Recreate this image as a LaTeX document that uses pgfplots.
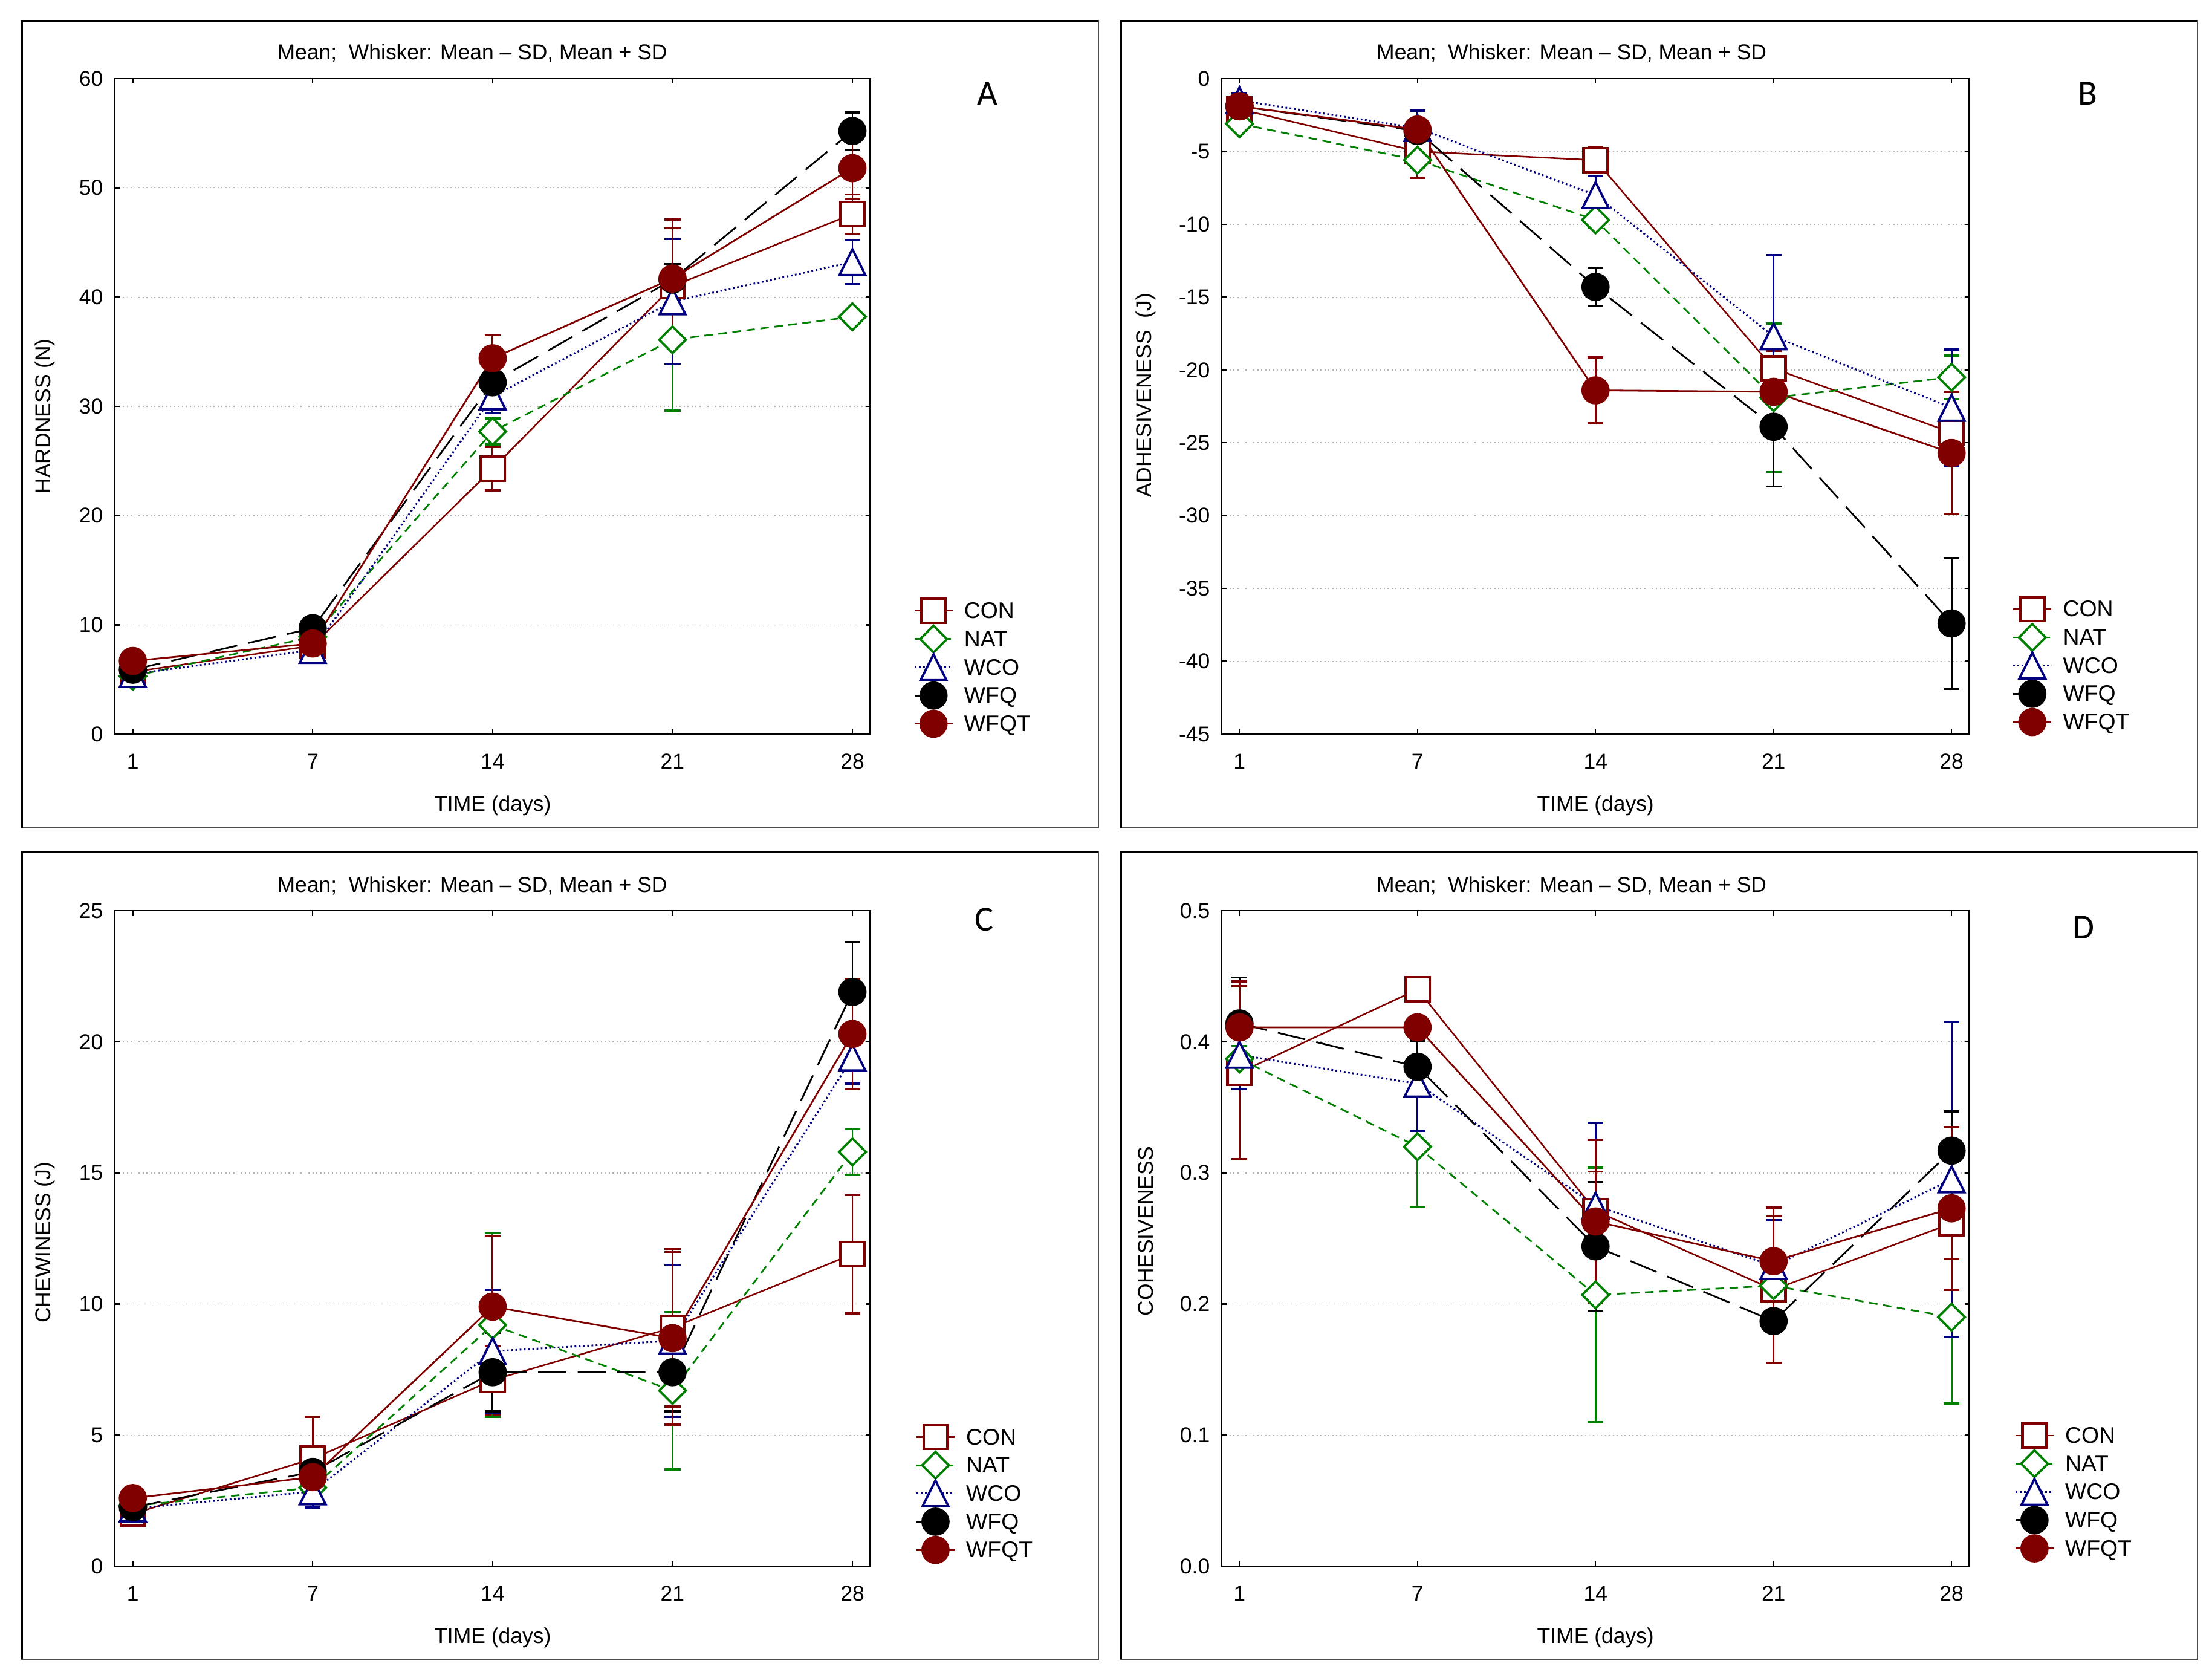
\documentclass[border=0pt]{standalone}
\usepackage{fontspec}
\setmainfont{Liberation Sans}
\newfontfamily\carlito{Carlito}
\usepackage{pgfplots}
\pgfplotsset{compat=1.18}
\definecolor{maroonc}{HTML}{800000}
\definecolor{ngreen}{HTML}{008000}
\definecolor{navyc}{HTML}{000080}
\newcommand{\tickfont}{\fontsize{7.6}{9}\selectfont}
\pgfplotsset{
  base/.style={
    scale only axis, height=232.3pt,
    xmin=-0.1, xmax=4.1, xtick={0,1,2,3,4}, xticklabels={1,7,14,21,28},
    tick align=inside, tick pos=both, major tick length=1.7pt,
    ymajorgrids, grid style={densely dotted, gray!60, line width=0.35pt},
    axis line style={line width=0.6pt},
    tick style={line width=0.5pt, black},
    ticklabel style={font=\tickfont},
    xticklabel style={inner sep=0pt, anchor=north, yshift=-6.85pt},
    yticklabel style={inner sep=0pt, anchor=east, xshift=-4pt},
    /pgf/number format/assume math mode=true,
    label style={font=\tickfont, inner sep=0pt},
    xlabel={TIME (days)},
    xlabel style={at={(axis description cs:0.5,-0.1177)}, anchor=base},
    ylabel style={anchor=center},
    title={Mean;\ \ Whisker: Mean – SD, Mean + SD},
    title style={anchor=base, yshift=-6pt, inner sep=0pt, font=\tickfont},
    clip=false,
    legend style={draw=none, fill=none, inner sep=0pt, outer sep=0pt, anchor=north west,
      row sep=0pt, column sep=3.8pt, font=\fontsize{8}{9.6}\selectfont,
      nodes={inner sep=0pt, text height=7.69pt, text depth=2.31pt, anchor=west}},
    legend cell align=left,
    legend image code/.code={\draw[mark repeat=2,mark phase=2] plot coordinates {(0pt,0pt) (6.75pt,0pt) (13.5pt,0pt)};},
  },
  eb/.style={error bars/y dir=both, error bars/y explicit,
    error bars/error bar style={solid, line width=0.6pt},
    error bars/error mark options={rotate=90, mark size=2.8pt, line width=0.8pt, solid}},
  con/.style={color=maroonc, solid, line width=0.55pt, mark=square*, mark size=4.25pt,
    mark options={solid, fill=white, line width=0.9pt}, eb},
  nat/.style={color=ngreen, dash pattern=on 3pt off 2pt, line width=0.6pt, mark=square*, mark size=3.35pt,
    mark options={solid, rotate=45, fill=white, line width=0.8pt}, eb},
  wco/.style={color=navyc, dash pattern=on 0.6pt off 0.9pt, line width=0.65pt, mark=triangle*, mark size=5.3pt,
    mark options={solid, yshift=-1.5pt, yscale=1.15, fill=white, line width=0.8pt}, eb},
  wfq/.style={color=black, dash pattern=on 10pt off 4pt, line width=0.6pt, mark=*, mark size=4.7pt,
    mark options={solid, fill=black}, eb},
  wfqt/.style={color=maroonc, solid, line width=0.6pt, mark=*, mark size=4.7pt,
    mark options={solid, fill=maroonc}, eb},
}
\begin{document}
\begin{tikzpicture}
\useasboundingbox (0,0) rectangle (784pt,593.5pt);
\fill[white] (0,0) rectangle (784pt,593.5pt);
% frames
\draw[line width=0.5pt, black!70] (7.7pt,300.2pt) rectangle (389.35pt,586.15pt);
\draw[line width=0.5pt, black!70] (397.35pt,300.2pt) rectangle (778.85pt,586.15pt);
\draw[line width=0.5pt, black!70] (7.7pt,5.5pt) rectangle (389.35pt,291.5pt);
\draw[line width=0.5pt, black!70] (397.35pt,5.5pt) rectangle (778.85pt,291.5pt);
\draw[line width=0.7pt, black] (7.7pt,300.2pt) -- (7.7pt,586.15pt) -- (389.35pt,586.15pt);
\draw[line width=0.7pt, black] (397.35pt,300.2pt) -- (397.35pt,586.15pt) -- (778.85pt,586.15pt);
\draw[line width=0.7pt, black] (7.7pt,5.5pt) -- (7.7pt,291.5pt) -- (389.35pt,291.5pt);
\draw[line width=0.7pt, black] (397.35pt,5.5pt) -- (397.35pt,291.5pt) -- (778.85pt,291.5pt);

% ---------------- A
\begin{axis}[base, at={(40.7pt,333.35pt)}, anchor=south west, width=267.8pt,
  ymin=0, ymax=60, ytick={0,10,20,30,40,50,60},
  ylabel={HARDNESS (N)}, ylabel style={at={(axis description cs:-0.0922,0.485)}},
  title style={at={(axis description cs:0.473,1.0286)}},
  legend style={at={(1.0571,0.2096)}}]
\addplot[con] table[x index=0,y index=1,y error index=2,row sep=\\]{0 5.7 0.4\\1 8.1 0.5\\2 24.3 2.0\\3 41.0 5.3\\4 47.6 1.8\\};
\addplot[nat] table[x index=0,y index=1,y error index=2,row sep=\\]{0 5.3 0.3\\1 8.9 1.5\\2 27.7 1.2\\3 36.1 6.5\\4 38.2 0.6\\};
\addplot[wco] table[x index=0,y index=1,y error index=2,row sep=\\]{0 5.5 0.3\\1 7.7 0.4\\2 30.9 1.5\\3 39.6 5.7\\4 43.2 2.0\\};
\addplot[wfq] table[x index=0,y index=1,y error index=2,row sep=\\]{0 5.9 0.4\\1 9.7 0.5\\2 32.2 1.5\\3 41.6 1.4\\4 55.2 1.7\\};
\addplot[wfqt] table[x index=0,y index=1,y error index=2,row sep=\\]{0 6.7 0.4\\1 8.3 0.5\\2 34.4 2.1\\3 41.7 5.4\\4 51.8 2.8\\};
\legend{CON,NAT,WCO,WFQ,WFQT}
\node[anchor=base, inner sep=0pt, font=\carlito\fontsize{12.5}{14}\selectfont] at (axis description cs:1.155,0.9602) {A};
\end{axis}

% ---------------- B
\begin{axis}[base, at={(433pt,333.35pt)}, anchor=south west, width=265pt,
  ymin=-45, ymax=0, ytick={-45,-40,-35,-30,-25,-20,-15,-10,-5,0},
  ylabel={ADHESIVENESS\ \ (J)}, ylabel style={at={(axis description cs:-0.1019,0.517)}},
  title style={at={(axis description cs:0.468,1.0286)}},
  legend style={at={(1.0575,0.2122)}}]
\addplot[con] table[x index=0,y index=1,y error index=2,row sep=\\]{0 -2.1 0.4\\1 -5.0 1.8\\2 -5.6 0.9\\3 -19.9 1.2\\4 -24.3 1.2\\};
\addplot[nat] table[x index=0,y index=1,y error index=2,row sep=\\]{0 -3.1 0.4\\1 -5.6 0.5\\2 -9.7 0.5\\3 -21.9 5.1\\4 -20.5 1.5\\};
\addplot[wco] table[x index=0,y index=1,y error index=2,row sep=\\]{0 -1.5 0.5\\1 -3.4 1.2\\2 -8.0 1.3\\3 -17.7 5.6\\4 -22.6 4.0\\};
\addplot[wfq] table[x index=0,y index=1,y error index=2,row sep=\\]{0 -1.9 0.3\\1 -3.6 0.5\\2 -14.3 1.3\\3 -23.9 4.1\\4 -37.4 4.5\\};
\addplot[wfqt] table[x index=0,y index=1,y error index=2,row sep=\\]{0 -1.9 0.4\\1 -3.5 0.5\\2 -21.4 2.25\\3 -21.5 0.8\\4 -25.7 4.2\\};
\legend{CON,NAT,WCO,WFQ,WFQT}
\node[anchor=base, inner sep=0pt, font=\carlito\fontsize{12.5}{14}\selectfont] at (axis description cs:1.1585,0.9602) {B};
\end{axis}

% ---------------- C
\begin{axis}[base, at={(40.7pt,38.5pt)}, anchor=south west, width=267.8pt,
  ymin=0, ymax=25, ytick={0,5,10,15,20,25},
  ylabel={CHEWINESS (J)}, ylabel style={at={(axis description cs:-0.0922,0.494)}},
  title style={at={(axis description cs:0.473,1.0286)}},
  legend style={at={(1.0597,0.2187)}}]
\addplot[con] table[x index=0,y index=1,y error index=2,row sep=\\]{0 2.0 0.2\\1 4.1 1.6\\2 7.1 1.3\\3 9.1 3.0\\4 11.9 2.25\\};
\addplot[nat] table[x index=0,y index=1,y error index=2,row sep=\\]{0 2.3 0.3\\1 3.0 0.4\\2 9.2 3.5\\3 6.7 3.0\\4 15.8 0.87\\};
\addplot[wco] table[x index=0,y index=1,y error index=2,row sep=\\]{0 2.2 0.2\\1 2.85 0.6\\2 8.2 2.35\\3 8.6 2.9\\4 19.4 1.0\\};
\addplot[wfq] table[x index=0,y index=1,y error index=2,row sep=\\]{0 2.25 0.3\\1 3.6 0.4\\2 7.4 1.5\\3 7.4 1.5\\4 21.9 1.9\\};
\addplot[wfqt] table[x index=0,y index=1,y error index=2,row sep=\\]{0 2.6 0.3\\1 3.4 0.5\\2 9.9 2.7\\3 8.7 3.3\\4 20.3 2.1\\};
\legend{CON,NAT,WCO,WFQ,WFQT}
\node[anchor=base, inner sep=0pt, font=\carlito\fontsize{12.5}{14}\selectfont] at (axis description cs:1.1507,0.9692) {C};
\end{axis}

% ---------------- D
\begin{axis}[base, at={(433pt,38.5pt)}, anchor=south west, width=265pt,
  ymin=0, ymax=0.5, ytick={0,0.1,0.2,0.3,0.4,0.5},
  yticklabel style={/pgf/number format/fixed, /pgf/number format/fixed zerofill, /pgf/number format/precision=1},
  ylabel={COHESIVENESS}, ylabel style={at={(axis description cs:-0.1019,0.511)}},
  title style={at={(axis description cs:0.468,1.0286)}},
  legend style={at={(1.0604,0.2211)}}]
\addplot[con] table[x index=0,y index=1,y error index=2,row sep=\\]{0 0.3765 0.066\\1 0.440 0.005\\2 0.271 0.03\\3 0.211 0.056\\4 0.2615 0.027\\};
\addplot[nat] table[x index=0,y index=1,y error index=2,row sep=\\]{0 0.387 0.01\\1 0.320 0.046\\2 0.207 0.097\\3 0.214 0.005\\4 0.190 0.066\\};
\addplot[wco] table[x index=0,y index=1,y error index=2,row sep=\\]{0 0.390 0.026\\1 0.368 0.036\\2 0.275 0.063\\3 0.229 0.035\\4 0.295 0.12\\};
\addplot[wfq] table[x index=0,y index=1,y error index=2,row sep=\\]{0 0.414 0.035\\1 0.381 0.02\\2 0.244 0.049\\3 0.187 0.005\\4 0.317 0.03\\};
\addplot[wfqt] table[x index=0,y index=1,y error index=2,row sep=\\]{0 0.411 0.035\\1 0.411 0.008\\2 0.263 0.062\\3 0.2327 0.041\\4 0.273 0.062\\};
\legend{CON,NAT,WCO,WFQ,WFQT}
\node[anchor=base, inner sep=0pt, font=\carlito\fontsize{12.5}{14}\selectfont] at (axis description cs:1.1528,0.957) {D};
\end{axis}
\end{tikzpicture}
\end{document}
